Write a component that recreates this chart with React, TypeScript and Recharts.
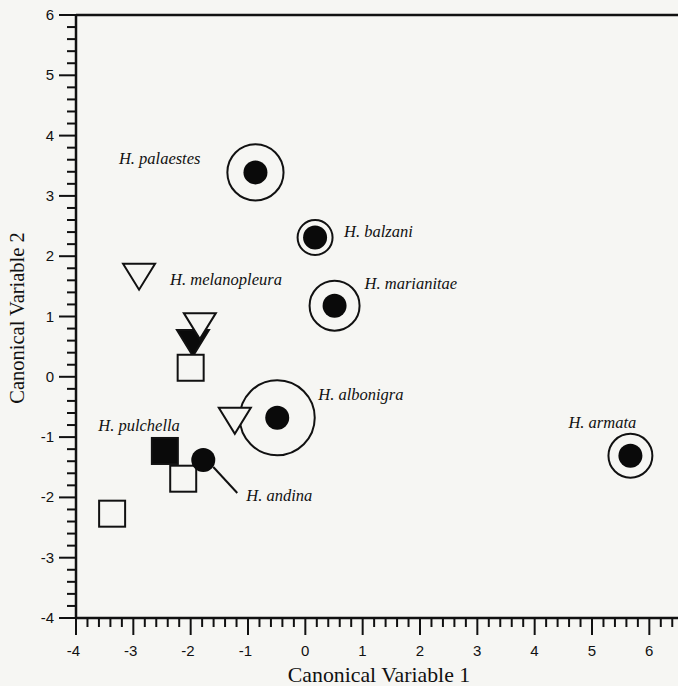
import { ScatterChart, Scatter, XAxis, YAxis, ReferenceLine, LabelList } from "recharts";

// 典型判别分析: 各物种在前两个典型变量上的位置
const RING_NAMES = ["H. palaestes", "H. balzani", "H. marianitae", "H. albonigra", "H. armata"];
const RING_CV1 = [-0.87, 0.17, 0.51, -0.49, 5.67];
const RING_CV2 = [3.39, 2.31, 1.18, -0.68, -1.31];
// 外圈半径, 以 CV1 单位计
const RING_SPREAD = [0.49, 0.305, 0.436, 0.654, 0.383];

const DOT_NAMES = ["H. andina"];
const DOT_CV1 = [-1.78];
const DOT_CV2 = [-1.38];

const OPEN_TRI_NAMES = ["H. melanopleura", "", ""];
const OPEN_TRI_CV1 = [-2.9, -1.84, -1.23];
const OPEN_TRI_CV2 = [1.66, 0.84, -0.73];

const FILLED_TRI_CV1 = [-1.96];
const FILLED_TRI_CV2 = [0.56];

const OPEN_SQ_CV1 = [-2.0, -2.13, -3.37];
const OPEN_SQ_CV2 = [0.15, -1.69, -2.27];

const FILLED_SQ_NAMES = ["H. pulchella"];
const FILLED_SQ_CV1 = [-2.45];
const FILLED_SQ_CV2 = [-1.23];

const X_MIN = -4;
const X_MAX = 6.5;
const Y_MIN = -4;
const Y_MAX = 6;

const W = 678;
const H = 686;
const Y_AXIS_W = 76;
const X_AXIS_H = 68;
const TOP = 15;
const PX_PER_CV1 = (W - Y_AXIS_W) / (X_MAX - X_MIN);

const BG = "#f6f6f3";
const INK = "#111";

const steps = (lo: number, hi: number) => {
  const out: number[] = [];
  for (let i = 0; lo + i * 0.2 <= hi + 1e-9; i++) out.push(Math.round((lo + i * 0.2) * 10) / 10);
  return out;
};
const X_TICKS = steps(X_MIN, 6.4);
const Y_TICKS = steps(Y_MIN, Y_MAX);
const isMajor = (v: number) => Math.abs(v - Math.round(v)) < 1e-6;

const zip = (xs: number[], ys: number[], names?: string[], extra?: number[]) =>
  xs.map((x, i) => ({ x, y: ys[i], name: names ? names[i] : "", r: extra ? extra[i] : 0 }));

const ringData = zip(RING_CV1, RING_CV2, RING_NAMES, RING_SPREAD);
const dotData = zip(DOT_CV1, DOT_CV2, DOT_NAMES);
const openTriData = zip(OPEN_TRI_CV1, OPEN_TRI_CV2, OPEN_TRI_NAMES);
const filledTriData = zip(FILLED_TRI_CV1, FILLED_TRI_CV2);
const openSqData = zip(OPEN_SQ_CV1, OPEN_SQ_CV2);
const filledSqData = zip(FILLED_SQ_CV1, FILLED_SQ_CV2, FILLED_SQ_NAMES);

// 标注相对点位的偏移 (px)
const LABEL_POS: Record<string, { dx: number; dy: number; anchor: "start" | "end" }> = {
  "H. palaestes": { dx: -55, dy: -8, anchor: "end" },
  "H. balzani": { dx: 29, dy: -1, anchor: "start" },
  "H. marianitae": { dx: 30, dy: -17, anchor: "start" },
  "H. albonigra": { dx: 41, dy: -18, anchor: "start" },
  "H. armata": { dx: -62, dy: -28, anchor: "start" },
  "H. melanopleura": { dx: 31, dy: 8, anchor: "start" },
  "H. pulchella": { dx: 15, dy: -20, anchor: "end" },
  "H. andina": { dx: 43, dy: 41, anchor: "start" },
};

const labelStyle = { fontFamily: "'Liberation Serif', serif", fontStyle: "italic" as const, fontSize: 16.5, fill: INK };

const SpeciesLabel = (props: any) => {
  const { x, y, width, height, value } = props;
  const pos = LABEL_POS[value];
  if (!value || !pos) return null;
  const cx = x + (width || 0) / 2;
  const cy = y + (height || 0) / 2;
  return (
    <g>
      {value === "H. andina" && (
        <line x1={cx + 10} y1={cy + 7} x2={cx + 34} y2={cy + 33} stroke={INK} strokeWidth={2} />
      )}
      <text x={cx + pos.dx} y={cy + pos.dy} textAnchor={pos.anchor} style={labelStyle}>
        {value}
      </text>
    </g>
  );
};

const RingDot = (props: any) => {
  const { cx, cy, payload } = props;
  return (
    <g>
      <circle cx={cx} cy={cy} r={payload.r * PX_PER_CV1} fill="none" stroke={INK} strokeWidth={2} />
      <circle cx={cx} cy={cy} r={12} fill="#0a0a0a" />
    </g>
  );
};

const PlainDot = (props: any) => <circle cx={props.cx} cy={props.cy} r={12} fill="#0a0a0a" />;

const Tri = (filled: boolean) => (props: any) => {
  const { cx, cy } = props;
  const pts = `${cx - 16},${cy - 13} ${cx + 16},${cy - 13} ${cx},${cy + 13}`;
  return (
    <polygon points={pts} fill={filled ? "#0a0a0a" : BG} stroke={INK} strokeWidth={2} strokeLinejoin="miter" />
  );
};

const Sq = (filled: boolean) => (props: any) => {
  const { cx, cy } = props;
  return <rect x={cx - 13} y={cy - 13} width={26} height={26} fill={filled ? "#0a0a0a" : BG} stroke={INK} strokeWidth={2} />;
};

const tickFont = { fontFamily: "'Liberation Sans', Arial, sans-serif", fontSize: 15, fill: INK };

const XTick = (props: any) => {
  const { x, y, payload } = props;
  const v = payload.value;
  const major = isMajor(v);
  return (
    <g>
      <line x1={x} x2={x} y1={y} y2={y + (major ? 17 : 9)} stroke={INK} strokeWidth={2} />
      {major && (
        <text x={x + 4} y={y + 38} textAnchor="end" style={tickFont}>
          {Math.round(v)}
        </text>
      )}
    </g>
  );
};

const YTick = (props: any) => {
  const { x, y, payload } = props;
  const v = payload.value;
  const major = isMajor(v);
  return (
    <g>
      <line x1={x - (major ? 17 : 9)} x2={x} y1={y} y2={y} stroke={INK} strokeWidth={2} />
      {major && (
        <text x={x - 22} y={y + 5} textAnchor="end" style={tickFont}>
          {Math.round(v)}
        </text>
      )}
    </g>
  );
};

const titleStyle = { fontFamily: "'Liberation Serif', 'Times New Roman', serif", fontSize: 20.5, fill: INK };

export default function App() {
  return (
    <div style={{ position: "absolute", left: 0, top: 0, width: W, height: H, background: BG }}>
      <ScatterChart width={W} height={H} margin={{ top: TOP, right: 0, bottom: 0, left: 0 }}>
        <XAxis
          type="number"
          dataKey="x"
          domain={[X_MIN, X_MAX]}
          allowDataOverflow
          ticks={X_TICKS}
          interval={0}
          tickSize={0}
          tickMargin={0}
          tick={<XTick />}
          height={X_AXIS_H}
          axisLine={{ stroke: INK, strokeWidth: 2.5 }}
          label={{
            content: () => (
              <text x={379} y={682} textAnchor="middle" style={{ ...titleStyle, fontSize: 21.8 }}>
                Canonical Variable 1
              </text>
            ),
          }}
        />
        <YAxis
          type="number"
          dataKey="y"
          domain={[Y_MIN, Y_MAX]}
          allowDataOverflow
          ticks={Y_TICKS}
          interval={0}
          tickSize={0}
          tickMargin={0}
          tick={<YTick />}
          width={Y_AXIS_W}
          axisLine={{ stroke: INK, strokeWidth: 2.5 }}
          label={{
            content: () => (
              <text
                x={24}
                y={318}
                textAnchor="middle"
                transform="rotate(-90 24 318)"
                style={titleStyle}
              >
                Canonical Variable 2
              </text>
            ),
          }}
        />
        <ReferenceLine y={Y_MAX} stroke={INK} strokeWidth={2.5} />
        <Scatter data={ringData} shape={<RingDot />} isAnimationActive={false}>
          <LabelList dataKey="name" content={<SpeciesLabel />} />
        </Scatter>
        <Scatter data={filledTriData} shape={Tri(true)} isAnimationActive={false} />
        <Scatter data={openTriData} shape={Tri(false)} isAnimationActive={false}>
          <LabelList dataKey="name" content={<SpeciesLabel />} />
        </Scatter>
        <Scatter data={openSqData} shape={Sq(false)} isAnimationActive={false} />
        <Scatter data={filledSqData} shape={Sq(true)} isAnimationActive={false}>
          <LabelList dataKey="name" content={<SpeciesLabel />} />
        </Scatter>
        <Scatter data={dotData} shape={<PlainDot />} isAnimationActive={false}>
          <LabelList dataKey="name" content={<SpeciesLabel />} />
        </Scatter>
      </ScatterChart>
    </div>
  );
}
